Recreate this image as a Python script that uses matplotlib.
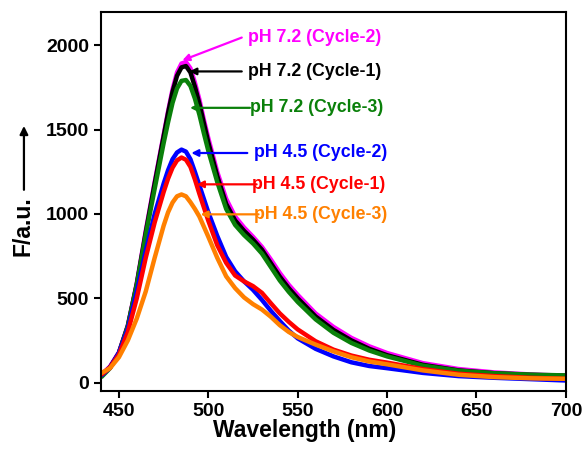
import matplotlib
matplotlib.use("Agg")
import matplotlib.pyplot as plt
from matplotlib.patches import FancyArrowPatch

plt.rcParams['font.family'] = ['Liberation Sans', 'DejaVu Sans']
plt.rcParams['font.weight'] = 'bold'

wavelength = [440, 445, 450, 455, 460, 465, 470, 475, 477.5, 480, 482.5, 485, 487.5, 490,
              492.5, 495, 497.5, 500, 505, 510, 515, 520, 525, 530, 535, 540, 545, 550,
              560, 570, 580, 590, 600, 620, 640, 660, 680, 700]

ph72_c2 = [45, 95, 180, 340, 590, 900, 1190, 1470, 1610, 1740, 1840, 1893, 1902, 1865,
           1780, 1680, 1560, 1450, 1250, 1090, 985, 920, 865, 805, 730, 650, 580, 520,
           410, 330, 265, 215, 175, 115, 80, 60, 48, 40]
ph72_c1 = [40, 90, 175, 335, 585, 890, 1180, 1460, 1600, 1725, 1820, 1870, 1878, 1840,
           1755, 1655, 1540, 1425, 1225, 1060, 962, 900, 848, 788, 708, 628, 560, 500,
           392, 312, 250, 200, 162, 105, 72, 55, 45, 40]
ph72_c3 = [30, 85, 175, 335, 580, 875, 1150, 1420, 1545, 1660, 1745, 1790, 1795, 1760,
           1685, 1590, 1480, 1375, 1190, 1030, 935, 875, 825, 765, 685, 605, 538, 478,
           375, 295, 235, 190, 155, 100, 70, 55, 47, 42]
ph45_c2 = [40, 88, 175, 320, 540, 780, 1000, 1180, 1260, 1325, 1365, 1382, 1370, 1325,
           1250, 1170, 1090, 1010, 870, 745, 660, 600, 550, 490, 425, 365, 308, 262,
           200, 155, 120, 98, 85, 57, 38, 28, 20, 12]
ph45_c1 = [45, 88, 165, 300, 500, 740, 950, 1130, 1210, 1275, 1318, 1335, 1322, 1280,
           1205, 1120, 1040, 960, 815, 710, 635, 600, 572, 532, 470, 410, 360, 315,
           245, 195, 160, 135, 118, 80, 52, 38, 28, 22]
ph45_c3 = [55, 85, 150, 250, 380, 540, 740, 930, 1010, 1068, 1105, 1116, 1105, 1070,
           1030, 985, 925, 865, 740, 630, 560, 505, 465, 433, 390, 340, 300, 270,
           225, 185, 150, 125, 108, 72, 46, 32, 25, 22]

series = [
    ("pH 7.2 (Cycle-2)", ph72_c2, "#FF00FF"),
    ("pH 7.2 (Cycle-1)", ph72_c1, "#000000"),
    ("pH 7.2 (Cycle-3)", ph72_c3, "#0A800A"),
    ("pH 4.5 (Cycle-2)", ph45_c2, "#0000FF"),
    ("pH 4.5 (Cycle-1)", ph45_c1, "#FF0000"),
    ("pH 4.5 (Cycle-3)", ph45_c3, "#FF8000"),
]

# label text position and arrow tail / tip in data units
label_text_xy = [(522, 2050), (522, 1846), (523.5, 1630), (525.5, 1362), (524.5, 1176), (525.5, 998)]
arrow_tail_xy = [(518.7, 2047), (518.7, 1846), (523.3, 1630), (521.8, 1362), (527, 1176), (528.1, 998)]
arrow_head_xy = [(485.5, 1912), (489.4, 1846), (489.8, 1630), (490.5, 1362), (493.6, 1176), (495.7, 998)]

fig = plt.figure(figsize=(5.84, 4.53), dpi=100)
ax = fig.add_axes([0.173, 0.137, 0.796, 0.837])

for name, vals, col in series:
    ax.plot(wavelength, vals, color=col, lw=3.2, solid_capstyle='butt', solid_joinstyle='round')

for (name, vals, col), txy, tail, head in zip(series, label_text_xy, arrow_tail_xy, arrow_head_xy):
    ax.annotate("", xy=head, xytext=tail,
                arrowprops=dict(arrowstyle='-|>', color=col, lw=1.6, mutation_scale=10,
                                shrinkA=0, shrinkB=0))
    ax.text(txy[0], txy[1], name, color=col, fontsize=12.8, fontweight='bold',
            ha='left', va='center')

ax.set_xlim(440, 700)
ax.set_ylim(-50, 2200)
ax.set_xticks([450, 500, 550, 600, 650, 700])
ax.set_yticks([0, 500, 1000, 1500, 2000])
ax.tick_params(axis='both', direction='out', length=5, width=1.5, labelsize=14,
               top=False, right=False)
for lab in ax.get_xticklabels() + ax.get_yticklabels():
    lab.set_fontweight('bold')
for sp in ax.spines.values():
    sp.set_linewidth(1.5)

ax.set_xlabel("Wavelength (nm)", fontsize=16.5, fontweight='bold')
ax.xaxis.set_label_coords(0.439, -0.075)

fig.text(0.040, 0.50, "F/a.u.", rotation=90, fontsize=16.5, fontweight='bold',
         ha='center', va='center')
fig.add_artist(FancyArrowPatch((0.041, 0.581), (0.041, 0.722),
               transform=fig.transFigure, arrowstyle='-|>', mutation_scale=12,
               color='black', lw=1.6, shrinkA=0, shrinkB=0))

fig.savefig("out.png", dpi=100, facecolor='white')
